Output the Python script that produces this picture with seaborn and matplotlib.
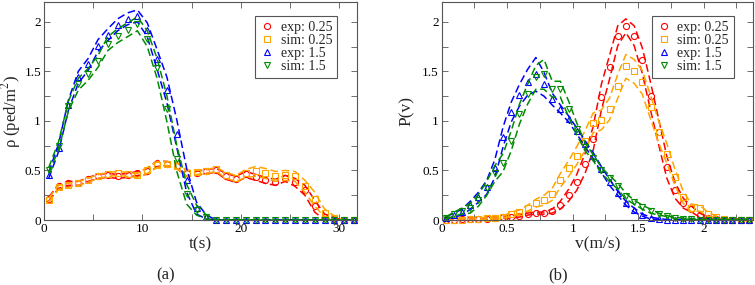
import numpy as np
import matplotlib
matplotlib.use("Agg")
import matplotlib.pyplot as plt
from matplotlib.ticker import MultipleLocator
import seaborn as sns

# ---- panel (a): density vs time ----
t = [0.5, 1.5, 2.5, 3.5, 4.5, 5.5, 6.5, 7.5, 8.5, 9.5, 10.5, 11.5, 12.5, 13.5, 14.5, 15.5,
     16.5, 17.5, 18.5, 19.5, 20.5, 21.5, 22.5, 23.5, 24.5, 25.5, 26.5, 27.5, 28.5, 29.5, 30.5, 31.5]

rho_exp_025 = [0.21, 0.34, 0.37, 0.37, 0.41, 0.44, 0.45, 0.44, 0.45, 0.47, 0.49, 0.57, 0.57, 0.55, 0.47, 0.47,
               0.49, 0.50, 0.44, 0.41, 0.46, 0.43, 0.40, 0.38, 0.42, 0.38, 0.30, 0.14, 0.03, 0.01, 0.0, 0.0]
rho_sim_025 = [0.20, 0.33, 0.35, 0.37, 0.40, 0.44, 0.46, 0.47, 0.46, 0.45, 0.50, 0.56, 0.57, 0.55, 0.47, 0.48,
               0.49, 0.51, 0.45, 0.42, 0.47, 0.49, 0.47, 0.44, 0.45, 0.44, 0.34, 0.21, 0.07, 0.02, 0.0, 0.0]
rho_exp_15 = [0.45, 0.73, 1.16, 1.44, 1.57, 1.76, 1.87, 1.97, 2.03, 2.06, 1.92, 1.62, 1.31, 0.87, 0.40, 0.12,
              0.03, 0.0, 0.0, 0.0, 0.0, 0.0, 0.0, 0.0, 0.0, 0.0, 0.0, 0.0, 0.0, 0.0, 0.0, 0.0]
rho_sim_15 = [0.50, 0.75, 1.15, 1.37, 1.47, 1.60, 1.78, 1.86, 1.92, 1.98, 1.83, 1.53, 1.12, 0.62, 0.26, 0.10,
              0.03, 0.0, 0.0, 0.0, 0.0, 0.0, 0.0, 0.0, 0.0, 0.0, 0.0, 0.0, 0.0, 0.0, 0.0, 0.0]

# half-width of the dashed envelope
rho_err_exp_025 = [0.02, 0.02, 0.02, 0.02, 0.02, 0.02, 0.02, 0.02, 0.02, 0.02, 0.03, 0.03, 0.02, 0.03, 0.03, 0.02,
                   0.02, 0.02, 0.03, 0.03, 0.03, 0.03, 0.03, 0.03, 0.03, 0.04, 0.05, 0.06, 0.03, 0.01, 0.0, 0.0]
rho_err_sim_025 = [0.02, 0.02, 0.02, 0.02, 0.02, 0.02, 0.02, 0.02, 0.02, 0.02, 0.03, 0.03, 0.02, 0.03, 0.03, 0.02,
                   0.02, 0.02, 0.03, 0.03, 0.04, 0.05, 0.05, 0.05, 0.05, 0.05, 0.06, 0.07, 0.04, 0.02, 0.0, 0.0]
rho_err_exp_15 = [0.03, 0.04, 0.05, 0.06, 0.06, 0.06, 0.06, 0.06, 0.06, 0.06, 0.07, 0.10, 0.13, 0.14, 0.12, 0.06,
                  0.02, 0.0, 0.0, 0.0, 0.0, 0.0, 0.0, 0.0, 0.0, 0.0, 0.0, 0.0, 0.0, 0.0, 0.0, 0.0]
rho_err_sim_15 = [0.03, 0.04, 0.05, 0.06, 0.06, 0.06, 0.07, 0.07, 0.07, 0.07, 0.08, 0.10, 0.13, 0.13, 0.10, 0.05,
                  0.02, 0.0, 0.0, 0.0, 0.0, 0.0, 0.0, 0.0, 0.0, 0.0, 0.0, 0.0, 0.0, 0.0, 0.0, 0.0]

# ---- panel (b): speed distribution ----
v = [0.031, 0.094, 0.156, 0.219, 0.281, 0.344, 0.406, 0.469, 0.531, 0.594, 0.656, 0.719, 0.781,
     0.844, 0.906, 0.969, 1.031, 1.094, 1.156, 1.219, 1.281, 1.344, 1.406, 1.469, 1.531, 1.594,
     1.656, 1.719, 1.781, 1.844, 1.906, 1.969, 2.031, 2.094, 2.156, 2.219, 2.281, 2.344]

p_exp_025 = [0.0, 0.0, 0.01, 0.01, 0.01, 0.015, 0.02, 0.03, 0.03, 0.04, 0.06, 0.07, 0.07,
             0.09, 0.15, 0.25, 0.38, 0.57, 0.82, 1.24, 1.54, 1.86, 1.96, 1.86, 1.61, 1.25,
             0.89, 0.53, 0.30, 0.17, 0.11, 0.05, 0.02, 0.01, 0.0, 0.0, 0.0, 0.0]
p_sim_025 = [0.0, 0.0, 0.005, 0.01, 0.01, 0.02, 0.02, 0.03, 0.06, 0.08, 0.12, 0.17, 0.20,
             0.26, 0.40, 0.52, 0.65, 0.80, 0.98, 1.01, 1.12, 1.35, 1.55, 1.50, 1.39, 1.14,
             0.89, 0.67, 0.43, 0.23, 0.12, 0.12, 0.06, 0.03, 0.01, 0.0, 0.0, 0.0]
p_exp_15 = [0.02, 0.05, 0.08, 0.15, 0.23, 0.33, 0.52, 0.84, 1.09, 1.26, 1.39, 1.47, 1.37,
            1.22, 1.12, 1.02, 0.90, 0.77, 0.65, 0.51, 0.38, 0.27, 0.17, 0.10, 0.05, 0.02,
            0.01, 0.0, 0.0, 0.0, 0.0, 0.0, 0.0, 0.0, 0.0, 0.0, 0.0, 0.0]
p_sim_15 = [0.02, 0.06, 0.09, 0.12, 0.20, 0.32, 0.47, 0.58, 0.80, 1.07, 1.27, 1.44, 1.47,
            1.32, 1.32, 1.12, 0.92, 0.74, 0.63, 0.50, 0.42, 0.34, 0.24, 0.18, 0.13, 0.09,
            0.06, 0.04, 0.02, 0.015, 0.01, 0.0, 0.0, 0.0, 0.0, 0.0, 0.0, 0.0]

p_err_exp_025 = [0.01, 0.01, 0.01, 0.01, 0.01, 0.01, 0.01, 0.01, 0.01, 0.01, 0.01, 0.01, 0.01,
                 0.02, 0.04, 0.06, 0.08, 0.10, 0.12, 0.13, 0.12, 0.10, 0.07, 0.10, 0.13, 0.14,
                 0.13, 0.11, 0.08, 0.05, 0.03, 0.02, 0.01, 0.01, 0.01, 0.01, 0.01, 0.01]
p_err_sim_025 = [0.01, 0.01, 0.01, 0.01, 0.01, 0.01, 0.01, 0.01, 0.02, 0.02, 0.03, 0.04, 0.05,
                 0.06, 0.07, 0.08, 0.09, 0.10, 0.10, 0.10, 0.11, 0.12, 0.12, 0.12, 0.12, 0.12,
                 0.11, 0.10, 0.08, 0.06, 0.04, 0.03, 0.02, 0.01, 0.01, 0.01, 0.01, 0.01]
p_err_exp_15 = [0.01, 0.02, 0.03, 0.04, 0.05, 0.07, 0.09, 0.10, 0.10, 0.11, 0.13, 0.17, 0.12,
                0.06, 0.04, 0.03, 0.03, 0.03, 0.03, 0.03, 0.03, 0.02, 0.02, 0.02, 0.01, 0.01,
                0.005, 0.005, 0.005, 0.005, 0.005, 0.005, 0.005, 0.005, 0.005, 0.005, 0.005, 0.005]
p_err_sim_15 = [0.01, 0.02, 0.03, 0.05, 0.06, 0.07, 0.08, 0.09, 0.10, 0.10, 0.10, 0.12, 0.15,
                0.08, 0.08, 0.08, 0.06, 0.04, 0.03, 0.03, 0.03, 0.03, 0.03, 0.02, 0.02, 0.02,
                0.01, 0.005, 0.005, 0.005, 0.005, 0.005, 0.005, 0.005, 0.005, 0.005, 0.005, 0.005]

labels = ["exp: 0.25", "sim: 0.25", "exp: 1.5", "sim: 1.5"]
colors = ["#ff0000", "#ffa500", "#0000ff", "#008b00"]
markers = ["o", "s", "^", "v"]

sns.set_theme(style="white")
plt.rcParams["font.family"] = ["Liberation Serif", "DejaVu Serif"]
plt.rcParams["mathtext.fontset"] = "stix"
plt.rcParams["xtick.direction"] = "in"
plt.rcParams["ytick.direction"] = "in"

fig = plt.figure(figsize=(7.55, 2.85), dpi=100)
ax_a = fig.add_axes([0.058, 0.228, 0.415, 0.765])
ax_b = fig.add_axes([0.585, 0.228, 0.413, 0.765])


def draw_panel(ax, x, series, errs):
    for y, e, lab, c, m in zip(series, errs, labels, colors, markers):
        y = np.array(y)
        e = np.array(e)
        for bound in (y + e, np.clip(y - e, 0, None)):
            sns.lineplot(x=x, y=bound, ax=ax, color=c, linestyle=(0, (5, 2.5)),
                         linewidth=1.1, legend=False, sort=False, estimator=None)
        sns.lineplot(x=x, y=y, ax=ax, color=c, linestyle="none", marker=m,
                     markersize=4.4, markerfacecolor="none", markeredgecolor=c,
                     markeredgewidth=0.8, label=lab, sort=False, estimator=None,
                     clip_on=False)


draw_panel(ax_a, t, [rho_exp_025, rho_sim_025, rho_exp_15, rho_sim_15],
           [rho_err_exp_025, rho_err_sim_025, rho_err_exp_15, rho_err_sim_15])
draw_panel(ax_b, v, [p_exp_025, p_sim_025, p_exp_15, p_sim_15],
           [p_err_exp_025, p_err_sim_025, p_err_exp_15, p_err_sim_15])

ax_a.set_xlim(0, 31.8)
ax_a.set_ylim(0, 2.2)
ax_a.xaxis.set_major_locator(MultipleLocator(10))
ax_a.xaxis.set_minor_locator(MultipleLocator(5))
ax_a.set_xlabel("t(s)", fontsize=12.5, labelpad=1)
ax_a.set_ylabel("ρ (ped/m$^2$)", fontsize=12, labelpad=1)

ax_b.set_xlim(0, 2.38)
ax_b.set_ylim(0, 2.2)
ax_b.xaxis.set_major_locator(MultipleLocator(0.5))
ax_b.xaxis.set_minor_locator(MultipleLocator(0.25))
ax_b.set_xlabel("v(m/s)", fontsize=12.5, labelpad=1)
ax_b.set_ylabel("P(v)", fontsize=12.5, labelpad=5)

for ax in (ax_a, ax_b):
    ax.yaxis.set_major_locator(MultipleLocator(0.5))
    ax.yaxis.set_minor_locator(MultipleLocator(0.25))
    ax.xaxis.set_major_formatter(plt.FuncFormatter(lambda val, pos: f"{val:g}"))
    ax.yaxis.set_major_formatter(plt.FuncFormatter(lambda val, pos: f"{val:g}"))
    ax.tick_params(which="both", top=True, right=True, bottom=True, left=True,
                   length=4, width=0.6, colors="#555555", labelcolor="black",
                   labelsize=9.5, pad=2)
    for sp in ax.spines.values():
        sp.set_color("#555555")
        sp.set_linewidth(0.8)
    leg = ax.legend(loc="upper right", bbox_to_anchor=(0.937, 0.935), fontsize=10,
                    frameon=True, fancybox=False, framealpha=1, edgecolor="#555555",
                    handlelength=1.0, handletextpad=0.5, labelspacing=0.0,
                    borderpad=0.35, borderaxespad=0)
    leg.get_frame().set_linewidth(0.8)

fig.text(0.219, 0.02, "(a)", fontsize=12, ha="center")
fig.text(0.739, 0.02, "(b)", fontsize=12, ha="center")

fig.savefig("out.png", dpi=100)
